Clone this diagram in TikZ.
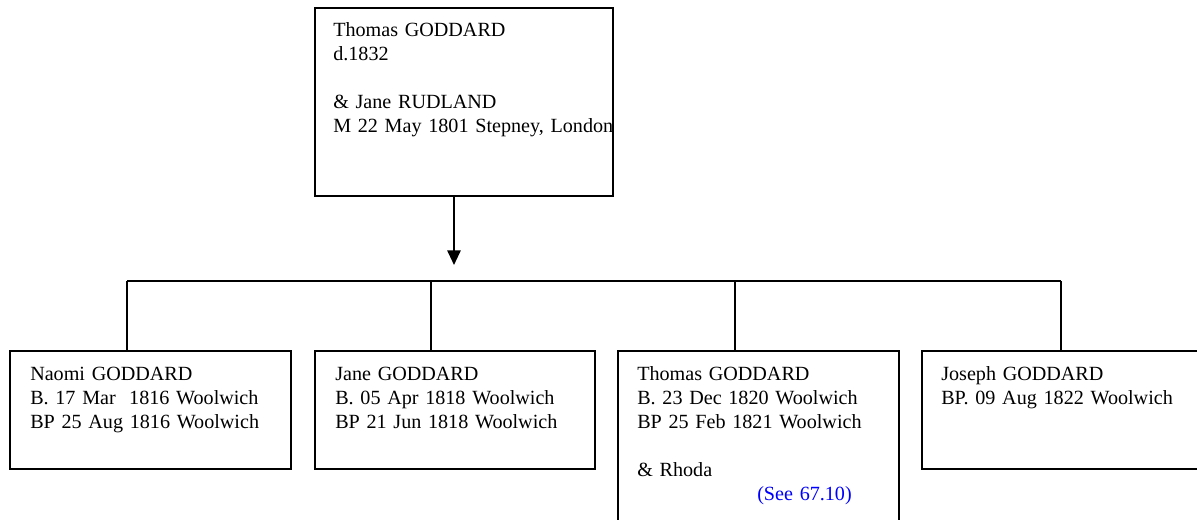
\documentclass[tikz,border=0pt]{standalone}
\usepackage{fontspec}
\setmainfont{Liberation Serif}
\usetikzlibrary{arrows.meta}
\begin{document}
\begin{tikzpicture}[x=0.75pt,y=-0.75pt,
  box/.style={draw=black,line width=1.4pt,rectangle,inner sep=0pt,anchor=north west},
  txt/.style={anchor=base west,inner sep=0pt,text width=230pt,align=left,
    font=\fontsize{15.1pt}{18pt}\selectfont},
  link/.style={draw=black,line width=1.4pt}]
\useasboundingbox (0,0) rectangle (1197,519);
\clip (0,0) rectangle (1197,519);
% boxes
\node[box,minimum width=298*0.75pt,minimum height=188*0.75pt] (b0) at (314,7) {};
\node[box,minimum width=281*0.75pt,minimum height=118*0.75pt] (b1) at (9,350) {};
\node[box,minimum width=280*0.75pt,minimum height=118*0.75pt] (b2) at (314,350) {};
\node[box,minimum width=281*0.75pt,minimum height=190*0.75pt] (b3) at (617,350) {};
\node[box,minimum width=285*0.75pt,minimum height=118*0.75pt] (b4) at (921,350) {};
% texts
\node[txt] (t0) at (333,36) {Thomas GODDARD\\d.1832\\[18pt]\& Jane RUDLAND\\M 22 May 1801 Stepney, London};
\node[txt] (t1) at (30,380) {Naomi GODDARD\\B. 17 Mar\ \ 1816 Woolwich\\BP 25 Aug 1816 Woolwich};
\node[txt] (t2) at (335,380) {Jane GODDARD\\B. 05 Apr 1818 Woolwich\\BP 21 Jun 1818 Woolwich};
\node[txt] (t3) at (637,380) {Thomas GODDARD\\B. 23 Dec 1820 Woolwich\\BP 25 Feb 1821 Woolwich\\[18pt]\& Rhoda};
\node[txt,text=blue] (see) at (757,500) {(See 67.10)};
\node[txt] (t4) at (941,380) {Joseph GODDARD\\BP. 09 Aug 1822 Woolwich};
% connectors
\coordinate (a0) at (454,195);
\coordinate (atip) at (454,265);
\coordinate (bus1) at (127,281);
\coordinate (bus2) at (431,281);
\coordinate (bus3) at (735,281);
\coordinate (bus4) at (1061,281);
\draw[link,-{Triangle[width=10pt,length=11pt]}] (a0) -- (atip);
\draw[link] (bus1) -- (bus4);
\draw[link] (bus1) -- (bus1 |- b1.north);
\draw[link] (bus2) -- (bus2 |- b2.north);
\draw[link] (bus3) -- (bus3 |- b3.north);
\draw[link] (bus4) -- (bus4 |- b4.north);
\end{tikzpicture}
\end{document}
